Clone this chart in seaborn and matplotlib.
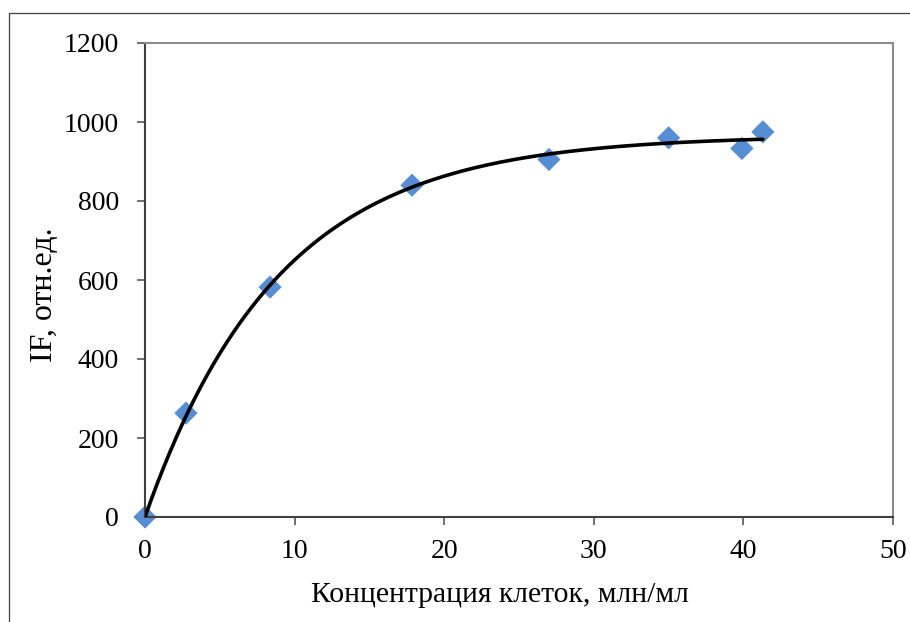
import numpy as np
import pandas as pd
import seaborn as sns
import matplotlib
matplotlib.use("Agg")
import matplotlib.pyplot as plt
from matplotlib.lines import Line2D

conc = [0.0, 2.74, 8.36, 17.85, 27.0, 35.0, 39.9, 41.3]
intensity = [0, 263, 582, 840, 905, 960, 933, 975]
xticks = [0, 10, 20, 30, 40, 50]
yticks = [0, 200, 400, 600, 800, 1000, 1200]

sns.set_theme(style="white")
plt.rcParams['font.family'] = ['Liberation Serif', 'DejaVu Serif']

df = pd.DataFrame({"x": conc, "y": intensity})

fig = plt.figure(figsize=(9.1, 6.22), dpi=100)
ax = fig.add_axes([145/910, 1-517/622, (893-145)/910, (517-43)/622])

# trendline: least-squares saturation fit y = A*(1-exp(-x/t)) of the data
xa = np.asarray(conc)
ya = np.asarray(intensity, dtype=float)
best = None
for t in np.linspace(2, 30, 2801):
    b = 1 - np.exp(-xa / t)
    A = (b @ ya) / (b @ b)
    err = np.sum((A * b - ya) ** 2)
    if best is None or err < best[0]:
        best = (err, A, t)
_, A, t = best
xs = np.linspace(xa.min(), xa.max(), 300)
fit = pd.DataFrame({"x": xs, "y": A * (1 - np.exp(-xs / t))})

sns.scatterplot(data=df, x="x", y="y", marker="D", s=140, color="#558ED5",
                edgecolor="none", ax=ax, zorder=2, clip_on=False)
sns.lineplot(data=fit, x="x", y="y", color="black", linewidth=2.6, ax=ax, zorder=3)

ax.set_xlim(0, 50)
ax.set_ylim(0, 1200)
ax.set_xticks(xticks)
ax.set_yticks(yticks)
ax.tick_params(axis='both', which='both', direction='out', length=5.8, width=1.2,
               color='#595959', labelsize=20, left=True, bottom=True)
ax.tick_params(axis='y', pad=13)
ax.tick_params(axis='x', pad=10)
for s in ['left', 'bottom']:
    ax.spines[s].set_color('#404040')
    ax.spines[s].set_linewidth(1.5)
for s in ['top', 'right']:
    ax.spines[s].set_color('#8C8C8C')
    ax.spines[s].set_linewidth(1.5)

ax.set_xlabel("Концентрация клеток, млн/мл", fontsize=21.3, labelpad=13, color='black')
ax.set_ylabel("IF, отн.ед.", fontsize=23, labelpad=3, color='black')
ax.xaxis.label.set_x((500 - 145) / 748)
ax.yaxis.label.set_y((517 - 295) / 474)
for lab in ax.get_xticklabels() + ax.get_yticklabels():
    lab.set_color('black')

# outer frame (left and top edges visible)
fig.add_artist(Line2D([8.5/910, 8.5/910], [0, 1-13/622], color='#404040', linewidth=0.9,
                      transform=fig.transFigure))
fig.add_artist(Line2D([8.5/910, 1], [1-13/622, 1-13/622], color='#404040', linewidth=0.9,
                      transform=fig.transFigure))

fig.savefig("out.png", dpi=100)
